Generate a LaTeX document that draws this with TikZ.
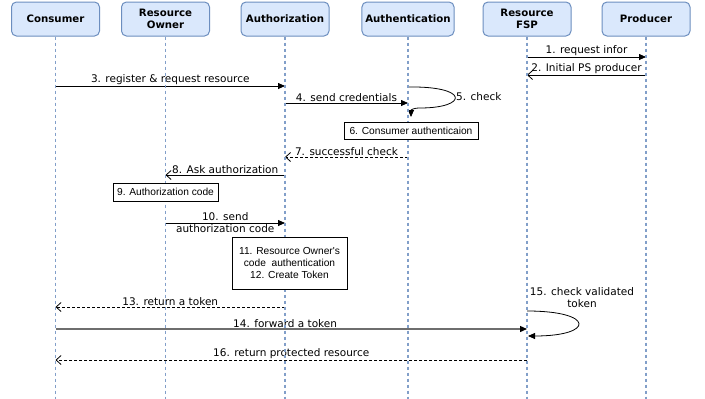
\documentclass[tikz,border=0pt]{standalone}
\usepackage{fontspec}
\setmainfont{DejaVu Sans}
\newfontfamily\notefont{Liberation Sans}
\usetikzlibrary{arrows.meta}

\definecolor{actorfill}{HTML}{DAE8FC}
\definecolor{actorline}{HTML}{6C8EBF}
\definecolor{tokenline}{HTML}{6E6E6E}

\tikzset{
  actor/.style={draw=actorline, fill=actorfill, rounded corners=5pt, line width=1pt,
    minimum width=88pt, minimum height=34pt, align=center,
    font=\fontsize{10.2}{12}\selectfont\bfseries},
  life/.style={draw=actorline!85, line width=1.2pt, dash pattern=on 3pt off 3pt},
  msg/.style={draw, line width=0.8pt, -{Triangle[length=7pt,width=6pt,color=black]}},
  openmsg/.style={draw, line width=0.8pt, -{Straight Barb[length=5pt,width=9pt]}},
  reply/.style={draw, line width=0.7pt, dash pattern=on 3pt off 2pt,
    -{Straight Barb[length=5pt,width=9pt,line width=0.8pt]}},
  lbl/.style={font=\fontsize{10.5}{12}\selectfont, inner sep=1pt, above},
  freelbl/.style={font=\fontsize{10.5}{12}\selectfont, inner sep=0pt, align=center},
  note/.style={draw, line width=0.8pt, fill=white, align=center, inner sep=2pt,
    font=\notefont\fontsize{10.2}{12}\selectfont},
}

\begin{document}
\begin{tikzpicture}[x=1pt, y=-1pt]
  \fill[white] (0,0) rectangle (705,399);
  \useasboundingbox (0,0) rectangle (705,399);

  % participants
  \node[actor] (cons)  at (55.5,19) {Consumer};
  \node[actor] (rown)  at (165.5,19) {Resource\\Owner};
  \node[actor] (authz) at (285,19) {Authorization};
  \node[actor] (authn) at (408,19) {Authentication};
  \node[actor] (fsp)   at (527,19) {Resource\\FSP};
  \node[actor] (prod)  at (646,19) {Producer};

  % messages
  \draw[msg] (fsp |- 0,57) -- node[lbl] {1. request infor} (prod |- 0,57);
  \draw[openmsg] (prod |- 0,75) -- node[lbl] {2. Initial PS producer} (fsp |- 0,75);
  \draw[msg] (cons |- 0,86) -- node[lbl] {3. register \& request resource} (authz |- 0,86);
  \draw[msg] (authz |- 0,103) -- node[lbl] {4. send credentials} (authn |- 0,103);

  % self check at authentication
  \draw[msg] (authn |- 0,87) .. controls (470,86) and (468,108) .. (420,108)
    .. controls (413,108) and (411,110) .. (411,117);
  \node[freelbl, anchor=west] (l5) at (456,96.5) {5. check};

  \draw[reply] (authn |- 0,157) -- node[lbl] {7. successful check} (authz |- 0,157);
  \draw[openmsg] (authz |- 0,175) -- node[lbl] {8. Ask authorization} (rown |- 0,175);

  \draw[msg] (rown |- 0,223) -- node[freelbl, midway] {10. send\\authorization code} (authz |- 0,223);

  \draw[reply] (authz |- 0,307) -- node[lbl] {13. return a token} (cons |- 0,307);

  % token validation at the resource server
  \draw[msg] (fsp |- 0,311) .. controls (595,311) and (595,336) .. (528,336);
  \node[freelbl] (l15) at (582,297.5) {15. check validated\\token};

  \draw[msg, draw=tokenline, line width=1.3pt] (cons |- 0,329) -- node[lbl, pos=0.487] {14. forward a token} (fsp |- 0,329);
  \draw[reply] (fsp |- 0,360) -- node[lbl] {16. return protected resource} (cons |- 0,360);

  % lifelines, drawn over the message lines
  \foreach \p in {cons,rown,authz,authn,fsp,prod}
    \draw[life] (\p.south) -- (\p.south |- 0,399);

  % notes cover the lifelines
  \node[note, minimum width=134pt, minimum height=17pt] (n6) at (411,130.5) {6. Consumer authenticaion};
  \node[note, minimum width=105pt, minimum height=18pt] (n9) at (165.5,192) {9. Authorization code};
  \node[note, minimum width=115pt, minimum height=52pt] (n11) at (289.5,263)
    {11. Resource Owner's\\code\ \ authentication\\12. Create Token};
\end{tikzpicture}
\end{document}
